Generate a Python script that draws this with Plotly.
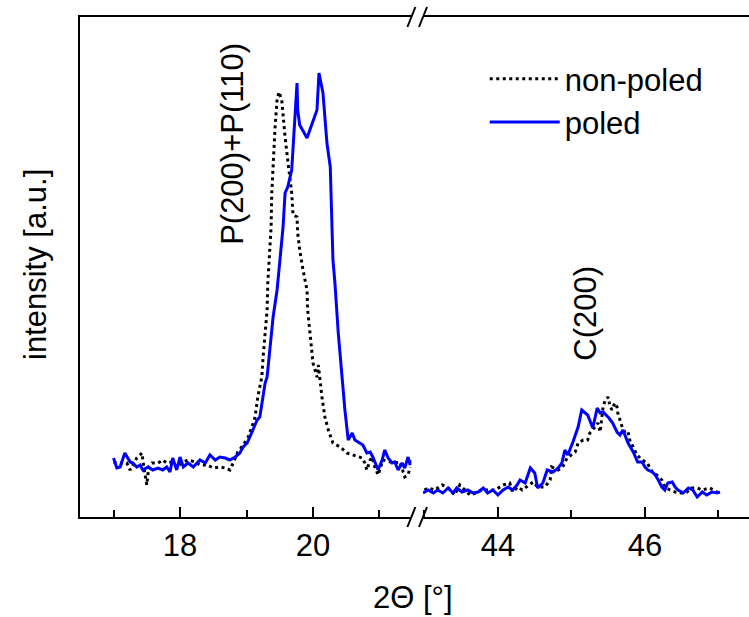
import plotly.graph_objects as go

# ---- data (2-theta in degrees, intensity in arbitrary units) ----
poled_x_low = [17.00, 17.05, 17.10, 17.17, 17.25, 17.29, 17.35, 17.40, 17.44, 17.52, 17.59, 17.67,
               17.74, 17.80, 17.85, 17.89, 17.95, 18.00, 18.05, 18.12, 18.20, 18.30, 18.38, 18.45,
               18.53, 18.60, 18.68, 18.75, 18.83, 18.90, 18.95, 19.01, 19.05, 19.10, 19.16, 19.20,
               19.25, 19.28, 19.31, 19.35, 19.40, 19.46, 19.50, 19.55, 19.58, 19.62, 19.68, 19.70,
               19.73, 19.76, 19.77, 19.80, 19.91, 19.95, 20.06, 20.09, 20.15, 20.21, 20.26, 20.30,
               20.33, 20.38, 20.44, 20.48, 20.53, 20.59, 20.63, 20.71, 20.75, 20.81, 20.86, 20.90,
               20.98, 21.04, 21.08, 21.13, 21.19, 21.23, 21.28, 21.34, 21.38, 21.43, 21.46, 21.47]
poled_y_low = [59, 49, 50, 64, 55, 54, 50, 52, 47, 50, 47, 49,
               47, 50, 45, 59, 47, 60, 50, 54, 50, 57, 54, 62,
               57, 60, 59, 57, 60, 64, 70, 74, 80, 87, 97, 100,
               124, 134, 140, 167, 200, 227, 255, 290, 324, 330, 347, 370,
               407, 434, 407, 392, 379, 387, 407, 444, 424, 374, 350, 257,
               234, 184, 134, 107, 77, 84, 77, 74, 72, 64, 65, 60,
               47, 57, 67, 59, 54, 55, 47, 54, 49, 60, 52, 57]

nonpoled_x_low = [17.00, 17.07, 17.20, 17.25, 17.35, 17.43, 17.44, 17.47, 17.50, 17.53, 17.58, 17.67,
                  17.74, 17.80, 17.88, 17.95, 18.05, 18.12, 18.23, 18.30, 18.41, 18.50, 18.60, 18.68,
                  18.75, 18.80, 18.87, 18.95, 19.02, 19.08, 19.13, 19.17, 19.23, 19.25, 19.28, 19.31,
                  19.32, 19.35, 19.37, 19.38, 19.40, 19.43, 19.46, 19.49, 19.53, 19.55, 19.58, 19.62,
                  19.65, 19.68, 19.70, 19.76, 19.77, 19.80, 19.85, 19.91, 19.92, 19.95, 19.98, 20.00,
                  20.03, 20.06, 20.08, 20.11, 20.14, 20.18, 20.23, 20.30, 20.41, 20.51, 20.60, 20.66,
                  20.74, 20.78, 20.81, 20.86, 20.89, 20.93, 20.98, 21.05, 21.16, 21.23, 21.31, 21.38,
                  21.43, 21.46]
nonpoled_y_low = [55, 54, 54, 47, 59, 64, 57, 45, 32, 50, 54, 54,
                  57, 54, 55, 50, 55, 57, 55, 52, 52, 49, 50, 49,
                  47, 54, 65, 72, 79, 90, 100, 120, 140, 160, 184, 207,
                  234, 267, 290, 324, 357, 390, 417, 425, 417, 400, 380, 357,
                  340, 324, 302, 300, 284, 267, 247, 227, 207, 187, 170, 154,
                  147, 140, 152, 134, 117, 100, 87, 74, 70, 64, 62, 60,
                  59, 54, 47, 57, 60, 50, 42, 57, 55, 54, 55, 40,
                  42, 50]

poled_x_high = [42.98, 43.05, 43.12, 43.18, 43.25, 43.32, 43.39, 43.44, 43.51, 43.59, 43.66, 43.73,
                43.80, 43.86, 43.93, 44.00, 44.07, 44.14, 44.20, 44.26, 44.30, 44.37, 44.44, 44.50,
                44.54, 44.61, 44.67, 44.75, 44.82, 44.87, 44.91, 44.95, 45.02, 45.09, 45.14, 45.18,
                45.22, 45.29, 45.35, 45.39, 45.43, 45.47, 45.51, 45.56, 45.62, 45.66, 45.70, 45.77,
                45.84, 45.90, 45.96, 46.00, 46.04, 46.10, 46.14, 46.18, 46.23, 46.27, 46.31, 46.37,
                46.41, 46.45, 46.52, 46.59, 46.65, 46.71, 46.78, 46.84, 46.91, 46.98, 47.02]
poled_y_high = [24, 27, 24, 27, 24, 29, 24, 29, 25, 27, 24, 25,
                29, 24, 27, 22, 27, 30, 27, 32, 37, 34, 49, 44,
                29, 34, 47, 45, 49, 54, 67, 62, 75, 90, 107, 104,
                102, 89, 109, 104, 105, 102, 99, 94, 85, 82, 87, 74,
                65, 55, 55, 50, 47, 45, 42, 37, 30, 27, 34, 35,
                30, 27, 24, 29, 27, 20, 25, 22, 25, 24, 25]

nonpoled_x_high = [43.00, 43.05, 43.14, 43.24, 43.31, 43.35, 43.41, 43.48, 43.55, 43.62, 43.70, 43.78,
                   43.86, 43.96, 44.07, 44.16, 44.20, 44.27, 44.33, 44.39, 44.48, 44.54, 44.64, 44.71,
                   44.73, 44.82, 44.88, 44.94, 45.05, 45.09, 45.16, 45.22, 45.25, 45.32, 45.36, 45.39,
                   45.41, 45.43, 45.46, 45.50, 45.52, 45.55, 45.59, 45.62, 45.63, 45.66, 45.69, 45.73,
                   45.77, 45.80, 45.84, 45.89, 45.96, 46.03, 46.10, 46.16, 46.23, 46.27, 46.34, 46.41,
                   46.50, 46.57, 46.63, 46.71, 46.78, 46.88, 46.98]
nonpoled_y_high = [27, 29, 27, 32, 30, 27, 22, 32, 27, 22, 24, 27,
                   27, 27, 32, 34, 25, 30, 27, 30, 35, 30, 30, 37,
                   50, 47, 50, 59, 65, 74, 77, 77, 84, 90, 94, 85,
                   97, 110, 117, 120, 112, 107, 114, 110, 104, 97, 90, 84,
                   85, 75, 70, 62, 57, 54, 45, 42, 37, 30, 27, 25,
                   24, 25, 29, 29, 27, 29, 25]

series_names = ["non-poled", "poled"]
peak_labels = ["P(200)+P(110)", "C(200)"]
peak_label_pos = [(18.78, 373), (45.18, 204)]
low_major = [18, 20]
low_minor = [17, 19, 21]
high_major = [44, 46]
high_minor = [43, 45, 47]

FONT = "Liberation Sans, Arial, sans-serif"
BLUE = "#0000FF"

fig = go.Figure()
dot_line = dict(color="black", width=3, dash="3px,3.5px")
blue_line = dict(color=BLUE, width=3)

fig.add_trace(go.Scatter(x=nonpoled_x_low, y=nonpoled_y_low, mode="lines", line=dot_line,
                         name=series_names[0], xaxis="x", yaxis="y", legendgroup="np"))
fig.add_trace(go.Scatter(x=poled_x_low, y=poled_y_low, mode="lines", line=blue_line,
                         name=series_names[1], xaxis="x", yaxis="y", legendgroup="p"))
fig.add_trace(go.Scatter(x=nonpoled_x_high, y=nonpoled_y_high, mode="lines", line=dot_line,
                         name=series_names[0], xaxis="x2", yaxis="y", legendgroup="np", showlegend=False))
fig.add_trace(go.Scatter(x=poled_x_high, y=poled_y_high, mode="lines", line=blue_line,
                         name=series_names[1], xaxis="x2", yaxis="y", legendgroup="p", showlegend=False))

W, H = 749, 617
L, R, T, B = 80, 0, 17, 100
pw = W - L - R
ph = H - T - B
d1 = (411.4 - L) / pw
d2 = (423 - L) / pw

axis_common = dict(showline=True, linecolor="black", linewidth=2, mirror=True,
                   ticks="inside", ticklen=10, tickwidth=2, tickcolor="black",
                   showgrid=False, zeroline=False, automargin=False,
                   tickfont=dict(family=FONT, size=31, color="black"))

fig.update_layout(
    width=W, height=H,
    margin=dict(l=L, r=R, t=T, b=B, autoexpand=False),
    paper_bgcolor="white", plot_bgcolor="white",
    font=dict(family=FONT, color="black"),
    xaxis=dict(domain=[0, d1], range=[16.496, 21.48], tickvals=low_major,
               minor=dict(tickvals=low_minor, ticks="inside", ticklen=7, tickwidth=2,
                          tickcolor="black", showgrid=False),
               anchor="y", **axis_common),
    xaxis2=dict(domain=[d2, 1], range=[42.98, 47.415], tickvals=high_major,
                minor=dict(tickvals=high_minor, ticks="inside", ticklen=7, tickwidth=2,
                           tickcolor="black", showgrid=False),
                anchor="y", **axis_common),
    yaxis=dict(range=[0, 500], showticklabels=False, ticks="", showline=True, linecolor="black",
               linewidth=2, showgrid=False, zeroline=False, anchor="x", automargin=False),
    legend=dict(x=0.605, y=0.93, xanchor="left", yanchor="top", bgcolor="rgba(0,0,0,0)",
                font=dict(family=FONT, size=31, color="black"), itemwidth=70,
                tracegroupgap=0),
    showlegend=True,
)

# axis titles
fig.add_annotation(text="2Θ [°]", xref="paper", yref="paper", x=(413 - L) / pw, y=-(597 - T - ph) / ph,
                   showarrow=False, font=dict(family=FONT, size=31), xanchor="center", yanchor="middle")
fig.add_annotation(text="intensity [a.u.]", xref="paper", yref="paper", x=(35 - L) / pw,
                   y=(T + ph - 265) / ph, textangle=-90, showarrow=False,
                   font=dict(family=FONT, size=31), xanchor="center", yanchor="middle")

# peak labels
for (lx, ly), txt, xr in zip(peak_label_pos, peak_labels, ["x", "x2"]):
    fig.add_annotation(text=txt, x=lx, y=ly, xref=xr, yref="y", textangle=-90, showarrow=False,
                       font=dict(family=FONT, size=31), xanchor="center", yanchor="middle")

# axis break marks
dx = 4 / pw
dy = 10 / ph
for xc in (d1, d2):
    for yc in (0, 1):
        fig.add_shape(type="line", xref="paper", yref="paper",
                      x0=xc - dx, y0=yc - dy, x1=xc + dx, y1=yc + dy,
                      line=dict(color="black", width=2))

fig.write_html("out.html", config={"displayModeBar": False},
               post_script="document.body.style.margin='0';")
